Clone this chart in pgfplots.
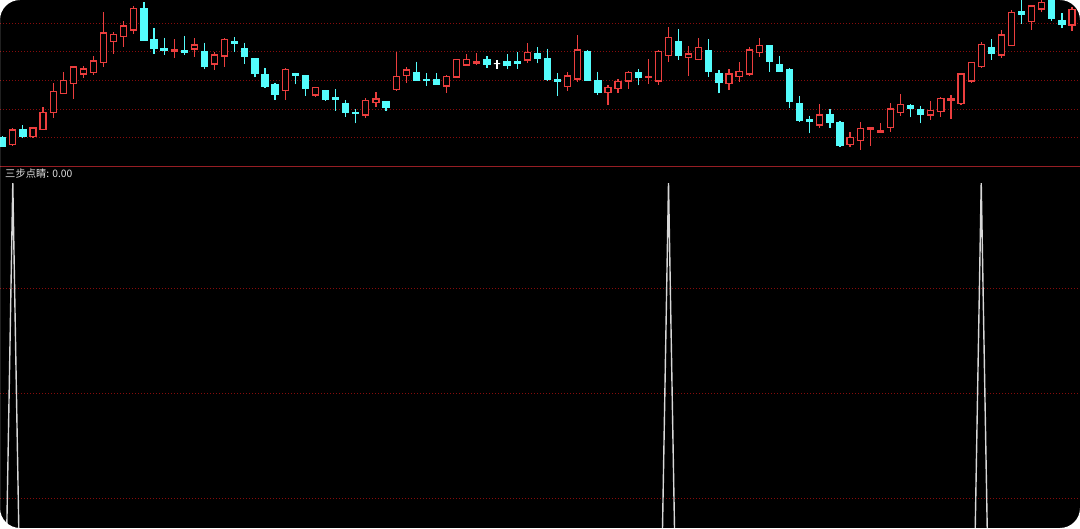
\documentclass[border=0pt]{standalone}
\usepackage{pgfplots}
\pgfplotsset{compat=1.18}
\usepackage{pgfplotstable}
\usepgfplotslibrary{statistics}
\usepackage{fontspec}
\newfontfamily\cjk{Noto Sans CJK SC}

\definecolor{upred}{RGB}{235,62,62}
\definecolor{downcyan}{RGB}{84,252,252}
\definecolor{gridred}{RGB}{135,12,12}
\definecolor{sepred}{RGB}{150,30,36}
\definecolor{spikegray}{RGB}{215,215,215}
\definecolor{labelgray}{RGB}{225,225,225}

% one row per day: open high low close
\pgfplotstableread{
o h l c
28.3 29.5 19 20
21.7 37.7 20.3 36
36 40.7 27.7 29.3
29.3 38.3 29 38
36.7 59.3 36 53.7
53.7 82.7 48.3 74.3
72.7 94.3 71.7 85.7
82.7 99.7 67.3 99
92 100 88.3 97
93.3 110 91.3 105
103.3 154.3 99.3 133
124.3 134.3 111.7 131.7
129.3 145.3 118.7 140
136 160 131.7 157.7
157 163.7 125.3 126
126 138 112 117.7
117 128.3 111 115.3
114.3 126.7 107.7 116
115 130 111 113.3
117 128.3 108.7 121
114.3 123.3 96.7 99.3
102 113.7 96 111
110 127.7 99.3 126.7
124.3 128.7 114.3 122.7
117.7 123.3 102 109.3
107.7 107.7 88.7 92.7
91 98.3 78.3 79.3
81.7 83.3 66 71.7
75.3 98.3 66 96.7
92 93.3 81.7 90.7
90.3 91 70 77.7
71 78.7 69 78.3
75.3 76 65.3 66.7
68.7 77 55.3 66.7
62 66 49.3 53.7
53.7 56.7 42.7 52.7
51 68.3 47.7 65.7
63.3 74 59.3 67
64.3 64.3 55.3 58.3
76.7 113.7 75.3 89.3
90.7 98.7 83.3 96
93.3 104.3 85.3 86
86.7 92.7 80 85.7
86 92.7 81.3 82
80 91 73.3 89.3
89 107.3 88.3 106.7
101 111.7 100 106.3
102.7 113.3 100.7 104
106.7 110 98.3 102
102.3 106 97.3 102.3
104 111.7 96.7 100.7
104 113.7 97.3 102.7
106 123.3 102.7 113.3
112 118.7 102.7 107.7
107.7 117.3 85.3 86.7
86 92.7 70 85
79.3 94 75 90
87 130.7 84.3 116
114.3 116 85.3 86
85.3 94.3 71 74
73.3 81 61 78.7
77.3 86.7 73.3 84.3
85 95.3 77 93.3
93.7 97 80.7 88.3
88.3 107.3 82 89.3
85 116 80.7 114.3
110.3 138.7 104.3 128.3
124.3 136.7 106 111
108.3 120 90.3 112
106.7 127.7 105.7 118.3
115 126.7 89.3 95
92 96 72.7 84
82.7 97 76 92
89.3 104.3 84.3 94.3
92 119.3 90 116
113.3 128.3 109.3 120.7
120.7 120.7 94.3 104.3
101.7 110 94.3 95
96.7 97.7 58.3 65
62.7 70 44.3 46
46 50 32.7 44.3
41 61.7 37.7 51
51 56.7 38.3 43.7
43.3 45.3 19.3 21
21.7 34.3 18.7 28.3
25.3 44.3 16 37.7
37 38.3 20.3 38.3
34 43.3 32.7 35.3
38.3 62.7 34.3 57
53.7 72 50.3 61.7
60.3 61.7 48.7 57.7
56.7 60.3 42.7 51.7
51 65 46 55.3
54.3 69.3 49.3 67.7
66 71 47.3 67
62.7 92.7 61 92
85 104.3 82.7 103.3
99.3 123.7 97.7 121.7
118.3 126.7 106 112.7
111 136 108.3 131
120.3 156 120.3 153.7
154.3 168 142 152
144.3 161 136 160
157 168 153.7 163.7
172 175 145.3 147.7
145.3 152.7 137.7 142
141 159.3 135.3 156.7
}\candles

\pgfplotsset{
  candleup/.style={draw=upred, fill=black, line width=1.2pt},
  candledown/.style={draw=downcyan, fill=downcyan, line width=1.2pt},
  candleflat/.style={draw=white, fill=white, line width=1.2pt},
  panel/.style={
    scale only axis, width=1080pt, anchor=south west,
    xmin=-0.268, xmax=106.79,
    axis line style={draw=none}, major tick length=0pt,
    xtick=\empty, yticklabel=\empty,
    ymajorgrids, grid style={gridred, line width=0.8pt, dash pattern=on 1pt off 2pt},
    axis background/.style={fill=none},
  },
}

\begin{document}
\begin{tikzpicture}
\fill[black] (0pt,0pt) rectangle (1080pt,528pt);

% price panel
\begin{axis}[panel, at={(0pt,362pt)}, height=166pt,
  ymin=0, ymax=166, ytick={28.3,56.9,85.5,114.1,142.7},
  boxplot/draw direction=y,
  boxplot/box extend=0.6, boxplot/whisker extend=0]
\pgfplotsinvokeforeach{0,...,106}{
  \pgfplotstablegetelem{#1}{o}\of\candles \let\co\pgfplotsretval
  \pgfplotstablegetelem{#1}{h}\of\candles \let\ch\pgfplotsretval
  \pgfplotstablegetelem{#1}{l}\of\candles \let\cl\pgfplotsretval
  \pgfplotstablegetelem{#1}{c}\of\candles \let\cc\pgfplotsretval
  \pgfmathsetmacro\cbot{min(\co,\cc)}
  \pgfmathsetmacro\ctop{max(\co,\cc)}
  \ifdim\cc pt>\co pt \def\cstyle{candleup}\else
    \ifdim\cc pt<\co pt \def\cstyle{candledown}\else \def\cstyle{candleflat}\fi\fi
  \edef\doplot{\noexpand\addplot[\cstyle, boxplot prepared={draw position=#1,
      lower whisker=\cl, lower quartile=\cbot, median=\ctop,
      upper quartile=\ctop, upper whisker=\ch}] coordinates {};}
  \doplot
}
\end{axis}

% indicator panel
\begin{axis}[panel, at={(0pt,0pt)}, height=362pt,
  ymin=0.4062, ymax=1.0293, ytick={0.4578,0.6386,0.8193}]
\addplot[spikegray, line width=1.4pt, mark=none] coordinates {
  (0,0) (1,1) (2,0) (65,0) (66,1) (67,0) (96,0) (97,1) (98,0) (106,0)};
\end{axis}

\draw[sepred, line width=1.5pt] (0pt,361.5pt) -- (1080pt,361.5pt);
\node[anchor=west, text=labelgray, inner sep=0pt,
  font=\cjk\fontsize{10.3}{12}\selectfont] at (5pt,354pt) {三步点睛: 0.00};

\fill[white, even odd rule] (-2pt,-2pt) rectangle (1082pt,530pt)
  [rounded corners=20pt] (0pt,0pt) rectangle (1080pt,528pt);
\pgfresetboundingbox
\useasboundingbox (0pt,0pt) rectangle (1080pt,528pt);
\end{tikzpicture}
\end{document}
